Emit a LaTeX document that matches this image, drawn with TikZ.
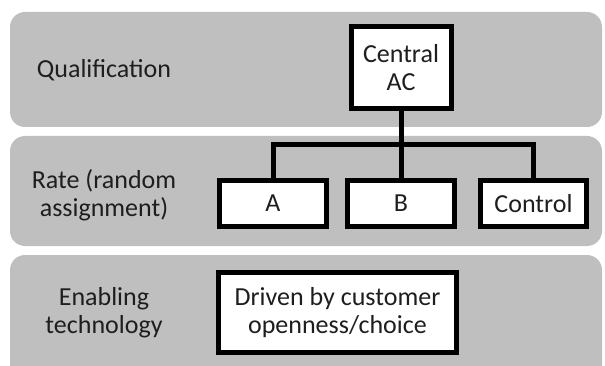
\documentclass[tikz,border=0pt]{standalone}
\usepackage{fontspec}
\setmainfont{Carlito}
\usetikzlibrary{positioning}
\definecolor{bandgray}{RGB}{191,191,191}
\definecolor{textgray}{RGB}{30,30,30}
\tikzset{
    band/.style = {fill=bandgray, draw=none, rounded corners=15pt},
    rowlabel/.style = {align=center, text=textgray, font=\fontsize{26}{28}\selectfont},
    box/.style = {rectangle, line width=5pt, draw=black, fill=white, align=center, text=textgray, inner sep=0pt, font=\fontsize{26}{28}\selectfont},
    link/.style = {line width=5pt, draw=black, line join=miter}
}

\begin{document}
\begin{tikzpicture}[x=1pt,y=-1pt]
\path[use as bounding box] (0,0) rectangle (605,366);
\clip (0,0) rectangle (605,366);
%
\path[band] (10,12) rectangle (602,127);
\path[band] (10,136) rectangle (602,246);
\path[band] (10,255) rectangle (602,385);
%
\node[rowlabel] at (104,70) (qual) {Qualification};
\node[rowlabel] at (104,195) (rate) {Rate (random\\assignment)};
\node[rowlabel] at (104,313) (tech) {Enabling\\technology};
%
\node[box, minimum width=100pt, minimum height=82pt] at (401,67.5) (central) {Central\\AC};
\node[box, minimum width=106.5pt, minimum height=46pt] at (273,203.5) (a) {A};
\node[box, minimum width=106.5pt, minimum height=46pt] at (401,203.5) (b) {B};
\node[box, minimum width=106.5pt, minimum height=46pt] at (533.5,203.5) (ctrl) {Control};
\node[box, minimum width=238pt, minimum height=80pt] at (337.5,312.5) (driven) {Driven by customer\\openness/choice};
%
\coordinate (bus) at (401,145);
\draw[link] (central.south) -- (b.north);
\draw[link] (a.north) |- (bus) -| (ctrl.north);

\end{tikzpicture}
\end{document}
